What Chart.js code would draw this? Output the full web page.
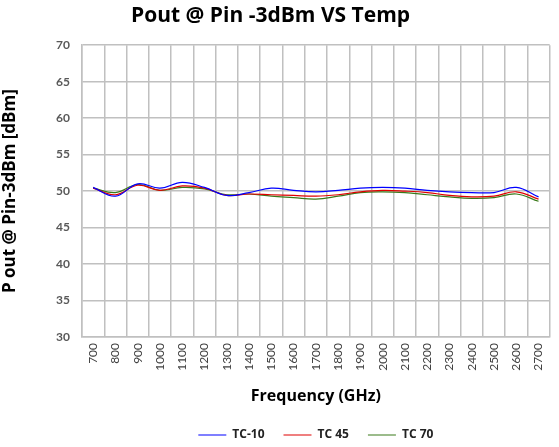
<!DOCTYPE html>
<html>
<head>
<meta charset="utf-8">
<script src="https://cdn.jsdelivr.net/npm/chart.js@4"></script>
<style>
  html, body { margin: 0; padding: 0; background: #fff; }
  #wrap { width: 559px; height: 447px; }
</style>
</head>
<body>
<div id="wrap"><canvas id="chart" width="559" height="447"></canvas></div>
<script>
const frequencies = ["700","800","900","1000","1100","1200","1300","1400","1500","1600","1700",
                     "1800","1900","2000","2100","2200","2300","2400","2500","2600","2700"];
const tcMinus10 = [50.5, 49.3, 51.0, 50.4, 51.2, 50.5, 49.4, 49.8, 50.4, 50.1, 49.9,
                   50.1, 50.4, 50.5, 50.4, 50.1, 49.9, 49.8, 49.8, 50.5, 49.2];
const tc45 = [50.4, 49.5, 50.8, 50.1, 50.7, 50.4, 49.4, 49.6, 49.5, 49.4, 49.3,
              49.5, 49.9, 50.1, 50.0, 49.8, 49.4, 49.2, 49.3, 49.9, 48.9];
const tc70 = [50.4, 49.8, 50.9, 50.1, 50.5, 50.3, 49.5, 49.6, 49.3, 49.1, 48.9,
              49.3, 49.8, 49.9, 49.8, 49.5, 49.2, 49.0, 49.1, 49.6, 48.6];
const seriesNames = ["TC-10", "TC 45", "TC 70"];
const seriesColors = ["#0000ff", "#e00000", "#3a7a1a"];

const gridColor = "#c0c0c0";
const fontFamily = "Lato, 'Open Sans', sans-serif";
const titleFamily = "'Open Sans', Lato, sans-serif";

// legend in the reference sits under the plot area and lower than chart.js puts it
const nudgeBoxes = {
    id: "nudgeBoxes",
    afterLayout(chart) {
        const lg = chart.legend;
        const dx = (chart.chartArea.left + chart.chartArea.right) / 2 - (lg.left + lg.right) / 2;
        lg.left += dx;
        lg.right += dx;
        lg.top += 4;
        lg.bottom += 4;
        const tb = chart.titleBlock;
        tb.left -= 8;
        tb.right -= 8;
    }
};

const ctx = document.getElementById("chart").getContext("2d");
new Chart(ctx, {
    type: "line",
    data: {
        labels: frequencies,
        datasets: [tcMinus10, tc45, tc70].map((d, i) => ({
            label: seriesNames[i],
            data: d,
            borderColor: seriesColors[i],
            backgroundColor: seriesColors[i],
            borderWidth: 1.2,
            pointRadius: 0,
            fill: false,
            tension: 0.4
        }))
    },
    options: {
        responsive: false,
        animation: false,
        layout: { padding: { left: 0, right: 2, top: 0, bottom: 0 } },
        plugins: {
            title: {
                display: true,
                text: "Pout @ Pin -3dBm VS Temp",
                color: "#000",
                font: { family: titleFamily, size: 21, weight: "bold" },
                padding: { top: 3, bottom: 17 }
            },
            legend: {
                position: "bottom",
                labels: {
                    usePointStyle: true,
                    pointStyle: "line",
                    pointStyleWidth: 28,
                    color: "#222",
                    font: { family: titleFamily, size: 12, weight: "bold" },
                    padding: 19,
                    boxHeight: 12
                }
            },
            tooltip: { enabled: false }
        },
        scales: {
            x: {
                offset: true,
                grid: { color: gridColor, lineWidth: 1.5, offset: true, drawTicks: false },
                border: { color: gridColor, width: 1.5 },
                ticks: {
                    color: "#404040",
                    font: { family: fontFamily, size: 12 },
                    minRotation: 90,
                    maxRotation: 90,
                    padding: 6,
                    autoSkip: false
                },
                title: {
                    display: true,
                    text: "Frequency (GHz)",
                    color: "#000",
                    font: { family: titleFamily, size: 16, weight: "bold" },
                    padding: { top: 10, bottom: 0 }
                }
            },
            y: {
                min: 30,
                max: 70,
                grid: { color: gridColor, lineWidth: 1.5, drawTicks: false },
                border: { color: gridColor, width: 1.5 },
                ticks: {
                    stepSize: 5,
                    color: "#595959",
                    font: { family: fontFamily, size: 12, weight: "bold" },
                    padding: 12
                },
                title: {
                    display: true,
                    text: "P out @ Pin-3dBm [dBm]",
                    color: "#000",
                    font: { family: titleFamily, size: 17, weight: "bold" },
                    padding: { top: 0, bottom: 6 }
                },
                afterFit: (scale) => { scale.width = 82; }
            }
        }
    },
    plugins: [nudgeBoxes]
});
</script>
</body>
</html>
